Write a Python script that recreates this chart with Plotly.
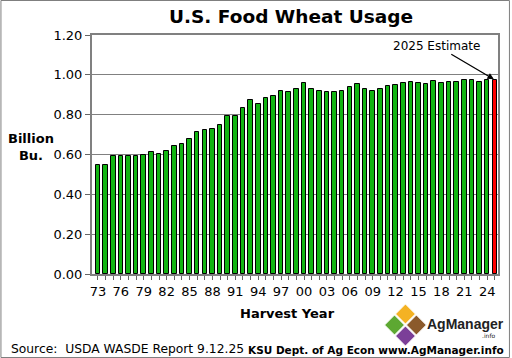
import plotly.graph_objects as go

years = list(range(1973, 2026))
usage = [0.545, 0.548, 0.590, 0.590, 0.590, 0.593, 0.598, 0.612, 0.603, 0.618,
         0.645, 0.655, 0.678, 0.715, 0.725, 0.728, 0.750, 0.792, 0.792, 0.835,
         0.875, 0.855, 0.883, 0.893, 0.917, 0.912, 0.930, 0.960, 0.930, 0.920,
         0.915, 0.915, 0.918, 0.937, 0.953, 0.930, 0.920, 0.930, 0.943, 0.950,
         0.960, 0.963, 0.960, 0.953, 0.968, 0.957, 0.965, 0.965, 0.975, 0.975,
         0.965, 0.972, 0.975]
tick_labels = [f"{y % 100:02d}" if (y - 1973) % 3 == 0 and y < 2025 else "" for y in years]
y_ticks = [0.0, 0.2, 0.4, 0.6, 0.8, 1.0, 1.2]

colors = ["#12B512"] * (len(years) - 1) + ["#FF0000"]
idx = list(range(len(years)))

FONT = "DejaVu Sans"
L, R, T, B = 92, 500, 35, 274
W, H = 512, 358


def px(x):
    return (x - L) / (R - L)


def py(y):
    return (B - y) / (B - T)


fig = go.Figure()
fig.add_trace(go.Bar(
    x=idx, y=usage, marker=dict(color=colors, line=dict(color="black", width=1)),
    width=0.6, hoverinfo="y"))

shapes = []
# outer border
shapes.append(dict(type="rect", xref="paper", yref="paper",
                   x0=px(0.5), x1=px(W - 0.5), y0=py(H - 0.5), y1=py(0.5),
                   line=dict(color="#7F7F7F", width=1), layer="below"))


def diamond(cx, cy, r, color):
    path = (f"M {px(cx)},{py(cy - r)} L {px(cx + r)},{py(cy)} "
            f"L {px(cx)},{py(cy + r)} L {px(cx - r)},{py(cy)} Z")
    return dict(type="path", xref="paper", yref="paper", path=path,
                fillcolor=color, line=dict(color="white", width=1))


shapes += [diamond(407, 314, 10, "#F4B223"), diamond(396, 325, 10, "#5DA832"),
           diamond(418, 325, 10, "#8B5A2B"), diamond(407, 336, 10, "#7B3F98")]


def note(text, x, y, size, xanchor="center", family=FONT, color="black", align="center"):
    return dict(text=text, xref="paper", yref="paper", x=px(x), y=py(y),
                xanchor=xanchor, yanchor="middle", align=align, showarrow=False,
                font=dict(size=size, family=family, color=color))


annotations = [
    note("<b>U.S. Food Wheat Usage</b>", 292, 17, 18.5),
    note("<b>Billion</b><br><b>Bu.</b>", 31, 147, 13),
    note("<b>Harvest Year</b>", 288, 313, 13),
    note("Source:  USDA WASDE Report 9.12.25", 9, 349, 12.3, xanchor="left"),
    note("<b>KSU Dept. of Ag Econ www.AgManager.info</b>", 508, 350, 10.5, xanchor="right"),
    note("<b>AgManager</b>", 427, 324, 14, xanchor="left", family="Liberation Sans", color="#222"),
    note(".info", 499, 335, 6, xanchor="right", color="#222"),
    dict(text="2025 Estimate", x=idx[-1], y=usage[-1], xref="x", yref="y",
         ax=-58, ay=-34, showarrow=True, arrowhead=2, arrowsize=1, arrowwidth=1.3,
         arrowcolor="black", standoff=1,
         font=dict(size=12, family=FONT, color="black")),
]

fig.update_layout(
    width=W, height=H,
    margin=dict(l=L, r=W - R, t=T, b=H - B),
    paper_bgcolor="white", plot_bgcolor="white",
    showlegend=False, bargap=0,
    shapes=shapes, annotations=annotations,
    font=dict(family=FONT, color="black"),
    xaxis=dict(range=[-0.78, 52.42], tickmode="array", tickvals=idx, ticktext=tick_labels,
               ticks="outside", ticklen=4, tickcolor="#666", tickangle=0,
               tickfont=dict(size=13, family=FONT, color="black"),
               showline=True, linecolor="#808080", linewidth=2, mirror=True,
               showgrid=False, zeroline=False, fixedrange=True),
    yaxis=dict(range=[0, 1.2], tickmode="array", tickvals=y_ticks, tickformat=".2f",
               ticks="outside", ticklen=5, tickcolor="#666",
               tickfont=dict(size=13, family=FONT, color="black"),
               showline=True, linecolor="#808080", linewidth=2, mirror=True,
               showgrid=True, gridcolor="#808080", gridwidth=1, zeroline=False,
               fixedrange=True),
)

fig.write_html("out.html", config={"displayModeBar": False},
               post_script="document.body.style.margin='0';document.body.style.overflow='hidden';")
